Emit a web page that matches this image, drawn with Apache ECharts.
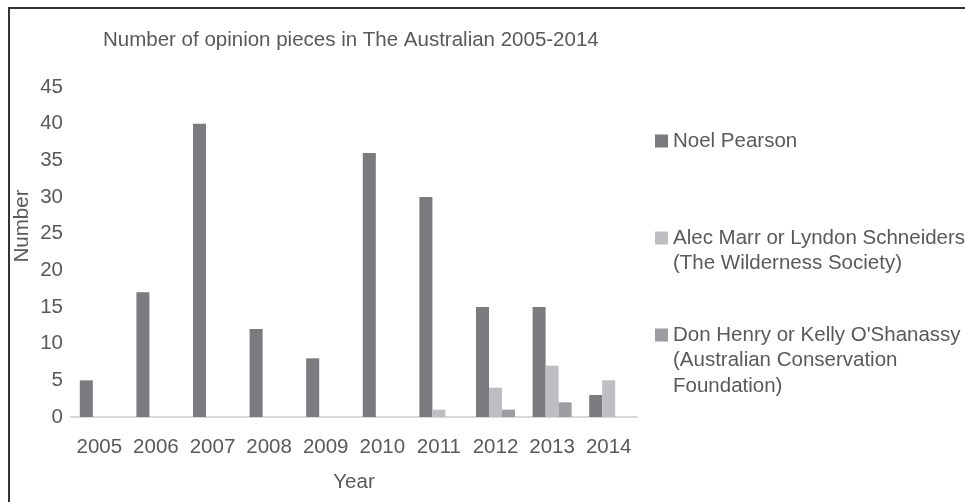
<!DOCTYPE html>
<html>
<head>
<meta charset="utf-8">
<script src="https://cdn.jsdelivr.net/npm/echarts@6/dist/echarts.min.js"></script>
<style>
  html, body { margin: 0; padding: 0; background: #fff; }
  #chart { width: 965px; height: 502px; }
</style>
</head>
<body>
<div id="chart"></div>
<script>
const years = ['2005','2006','2007','2008','2009','2010','2011','2012','2013','2014'];
const noelPearson = [5, 17, 40, 12, 8, 36, 30, 15, 15, 3];
const wildernessSociety = [0, 0, 0, 0, 0, 0, 1, 4, 7, 5];
const conservationFoundation = [0, 0, 0, 0, 0, 0, 0, 1, 2, 0];
const seriesNames = [
  'Noel Pearson',
  'Alec Marr or Lyndon Schneiders (The Wilderness Society)',
  "Don Henry or Kelly O'Shanassy (Australian Conservation Foundation)"
];
const legendLabels = [
  'Noel Pearson',
  '\nAlec Marr or Lyndon Schneiders\n(The Wilderness Society)',
  "\n\nDon Henry or Kelly O'Shanassy\n(Australian Conservation\nFoundation)"
];
const colors = ['#7a7a7f', '#bebec2', '#9d9da1'];
const textColor = '#595959';
const font = 'Liberation Sans, Arial, sans-serif';
const fs = 20.5;

const chart = echarts.init(document.getElementById('chart'), null, { renderer: 'canvas' });

const LH = 25.5;
const legendTops = [136 - LH * 0.5, 233 - LH * 1.5, 330 - LH * 2.5];
const legends = seriesNames.map((n, i) => ({
  data: [n],
  left: 650,
  top: legendTops[i],
  orient: 'vertical',
  itemWidth: 13,
  itemHeight: 13,
  itemGap: 0,
  icon: 'rect',
  selectedMode: false,
  formatter: () => legendLabels[i],
  textStyle: { color: textColor, fontSize: fs, fontFamily: font, lineHeight: LH }
}));

const option = {
  animation: false,
  backgroundColor: '#fff',
  textStyle: { fontFamily: font },
  title: {
    text: 'Number of opinion pieces in The Australian 2005-2014',
    left: 98,
    top: 25,
    textStyle: { color: textColor, fontSize: fs, fontWeight: 'normal', fontFamily: font }
  },
  legend: legends,
  grid: { left: 71, right: 328, top: 87, bottom: 85 },
  xAxis: {
    type: 'category',
    data: years,
    name: 'Year',
    nameLocation: 'middle',
    nameGap: 55,
    nameTextStyle: { color: textColor, fontSize: fs, fontFamily: font },
    axisLine: { lineStyle: { color: '#d9d9d9', width: 2 } },
    axisTick: { show: false },
    axisLabel: { color: textColor, fontSize: fs, fontFamily: font, margin: 20, interval: 0 }
  },
  yAxis: {
    type: 'value',
    min: 0,
    max: 45,
    interval: 5,
    name: 'Number',
    nameLocation: 'middle',
    nameGap: 38,
    nameMoveOverlap: false,
    nameTextStyle: { color: textColor, fontSize: fs, fontFamily: font, padding: [0, 0, 0, 52] },
    axisLine: { show: false },
    axisTick: { show: false },
    splitLine: { show: false },
    axisLabel: { color: textColor, fontSize: fs, fontFamily: font, margin: 8 }
  },
  series: [noelPearson, wildernessSociety, conservationFoundation].map((d, i) => ({
    name: seriesNames[i],
    type: 'bar',
    data: d,
    barWidth: 13,
    barGap: '0%',
    itemStyle: { color: colors[i] }
  })),
  graphic: [{
    type: 'rect',
    shape: { x: 9, y: 8, width: 1200, height: 800 },
    style: { fill: 'none', stroke: '#333', lineWidth: 2 },
    silent: true
  }]
};
chart.setOption(option);
</script>
</body>
</html>
